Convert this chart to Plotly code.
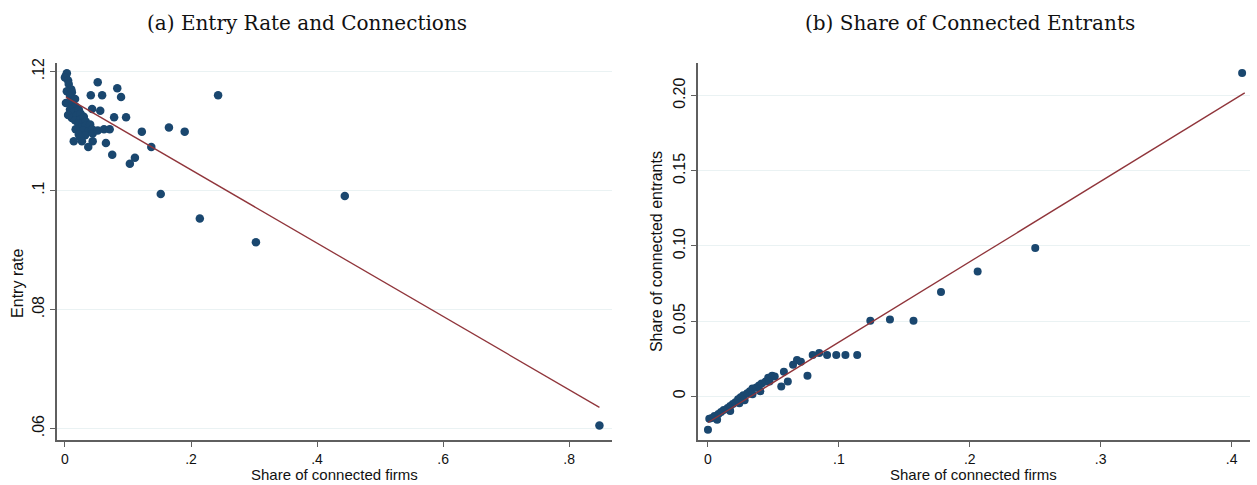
import plotly.graph_objects as go

# Panel (a): share of connected firms vs. entry rate
share_a = [0.0016, 0.003, 0.000, 0.005, 0.006, 0.010, 0.003, 0.011, 0.008, 0.0016,
           0.011, 0.016, 0.013, 0.017, 0.008, 0.014, 0.022, 0.005, 0.011, 0.019,
           0.025, 0.016, 0.024, 0.030, 0.021, 0.029, 0.033, 0.025, 0.033, 0.040,
           0.017, 0.029, 0.037, 0.043, 0.022, 0.032, 0.024, 0.044, 0.014, 0.027,
           0.044, 0.037, 0.052, 0.083, 0.089, 0.041, 0.059, 0.243, 0.043, 0.056,
           0.078, 0.097, 0.122, 0.165, 0.190, 0.052, 0.062, 0.071, 0.065, 0.075,
           0.111, 0.103, 0.137, 0.152, 0.214, 0.303, 0.444, 0.848]
entry_rate = [0.1193, 0.1197, 0.1190, 0.1185, 0.1179, 0.1170, 0.1167, 0.1165, 0.1159, 0.1147,
              0.1151, 0.1154, 0.1144, 0.1141, 0.1136, 0.1132, 0.1136, 0.1127, 0.1122, 0.1126,
              0.1129, 0.1118, 0.1119, 0.1124, 0.1113, 0.1114, 0.1116, 0.1106, 0.1109, 0.1111,
              0.1103, 0.1101, 0.1099, 0.1103, 0.1094, 0.1093, 0.1090, 0.1096, 0.1083, 0.1083,
              0.1083, 0.1073, 0.1182, 0.1172, 0.1157, 0.1160, 0.1160, 0.1160, 0.1137, 0.1134,
              0.1123, 0.1123, 0.1099, 0.1106, 0.1099, 0.1101, 0.1103, 0.1103, 0.1080, 0.1060,
              0.1055, 0.1045, 0.1073, 0.0994, 0.0953, 0.0913, 0.0991, 0.0605]
fit_a = [0.1158, -0.0616]          # intercept, slope
fit_a_x = [0.0016, 0.848]

# Panel (b): share of connected firms vs. share of connected entrants
share_b = [0.000, 0.001, 0.003, 0.005, 0.008, 0.010, 0.012, 0.015, 0.017, 0.019,
           0.021, 0.023, 0.025, 0.027, 0.030, 0.032, 0.034, 0.037, 0.039, 0.041,
           0.044, 0.046, 0.049, 0.051, 0.056, 0.058, 0.061, 0.065, 0.068, 0.071,
           0.076, 0.080, 0.085, 0.091, 0.098, 0.105, 0.114, 0.124, 0.139, 0.157,
           0.178, 0.206, 0.250, 0.408, 0.007, 0.017, 0.028, 0.034, 0.040, 0.047,
           0.024]
entrants_b = [-0.0222, -0.0150, -0.0144, -0.0131, -0.0118, -0.0105, -0.0092, -0.0078, -0.0065, -0.0052,
              -0.0039, -0.0020, -0.0007, 0.0007, 0.0020, 0.0033, 0.0052, 0.0059, 0.0072, 0.0085,
              0.0098, 0.0124, 0.0137, 0.0131, 0.0065, 0.0163, 0.0098, 0.0209, 0.0242, 0.0229,
              0.0137, 0.0275, 0.0288, 0.0275, 0.0275, 0.0275, 0.0275, 0.0503, 0.0510, 0.0503,
              0.0693, 0.0830, 0.0987, 0.2150, -0.0157, -0.0098, -0.0026, 0.0013, 0.0033, 0.0098,
              -0.0046]
fit_b = [-0.0175, 0.535]           # intercept, slope
fit_b_x = [0.0, 0.41]

xticks_a = [0, 0.2, 0.4, 0.6, 0.8]
xticklabels_a = ["0", ".2", ".4", ".6", ".8"]
yticks_a = [0.06, 0.08, 0.10, 0.12]
yticklabels_a = [".06", ".08", ".1", ".12"]
xticks_b = [0, 0.1, 0.2, 0.3, 0.4]
xticklabels_b = ["0", ".1", ".2", ".3", ".4"]
yticks_b = [0, 0.05, 0.10, 0.15, 0.20]
yticklabels_b = ["0", "0.05", "0.10", "0.15", "0.20"]

NAVY = "#1a476f"
MAROON = "#90353b"
AXIS = "#5f5f5f"
GRID = "#eaf2f3"
SANS = "Liberation Sans, Arial, sans-serif"
SERIF = "DejaVu Serif, Liberation Serif, serif"
TXT = "#111"

DOM_A = [0.0453, 0.4869]
DOM_B = [0.5553, 0.9944]
DOM_Y = [0.0928, 0.880]

fig = go.Figure()
fig.add_trace(go.Scatter(x=share_a, y=entry_rate, mode="markers",
                         marker=dict(color=NAVY, size=8.5, line=dict(width=0)),
                         xaxis="x", yaxis="y", showlegend=False))
fig.add_trace(go.Scatter(x=fit_a_x, y=[fit_a[0] + fit_a[1] * v for v in fit_a_x],
                         mode="lines", line=dict(color=MAROON, width=1.3),
                         xaxis="x", yaxis="y", showlegend=False))
fig.add_trace(go.Scatter(x=share_b, y=entrants_b, mode="markers",
                         marker=dict(color=NAVY, size=8, line=dict(width=0)),
                         xaxis="x2", yaxis="y2", showlegend=False))
fig.add_trace(go.Scatter(x=fit_b_x, y=[fit_b[0] + fit_b[1] * v for v in fit_b_x],
                         mode="lines", line=dict(color=MAROON, width=1.3),
                         xaxis="x2", yaxis="y2", showlegend=False))

common_x = dict(showline=True, linecolor=AXIS, linewidth=1.5, ticks="outside",
                ticklen=5, tickcolor=AXIS, tickwidth=1.2, showgrid=False, zeroline=False,
                tickfont=dict(family=SANS, size=14, color=TXT))
common_y = dict(showline=True, linecolor=AXIS, linewidth=1.5, ticks="outside",
                ticklen=5, tickcolor=AXIS, tickwidth=1.2, showgrid=True, gridcolor=GRID,
                gridwidth=1, zeroline=False, tickangle=-90,
                tickfont=dict(family=SANS, size=16, color=TXT),
                title_font=dict(family=SANS, size=16, color=TXT))


def x_title(text, dom):
    return dict(text=text, x=(dom[0] + dom[1]) / 2, y=0.0, xref="paper", yref="paper",
                showarrow=False, xanchor="center", yanchor="bottom",
                font=dict(family=SANS, size=15, color=TXT))


fig.update_layout(
    width=1257, height=485,
    margin=dict(l=0, r=0, t=0, b=0),
    paper_bgcolor="white", plot_bgcolor="white",
    xaxis=dict(domain=DOM_A, range=[-0.0127, 0.868], anchor="y",
               tickvals=xticks_a, ticktext=xticklabels_a, **common_x),
    yaxis=dict(domain=DOM_Y, range=[0.058, 0.1215], anchor="x",
               tickvals=yticks_a, ticktext=yticklabels_a, **common_y),
    xaxis2=dict(domain=DOM_B, range=[-0.0076, 0.414], anchor="y2",
                tickvals=xticks_b, ticktext=xticklabels_b, **common_x),
    yaxis2=dict(domain=DOM_Y, range=[-0.0294, 0.222], anchor="x2",
                tickvals=yticks_b, ticktext=yticklabels_b,
                title=dict(text="Share of connected entrants", standoff=4), **common_y),
    annotations=[
        dict(text="(a) Entry Rate and Connections", x=0.244, y=0.963, xref="paper",
             yref="paper", showarrow=False, xanchor="center", yanchor="middle",
             font=dict(family=SERIF, size=20, color=TXT)),
        dict(text="(b) Share of Connected Entrants", x=0.772, y=0.963, xref="paper",
             yref="paper", showarrow=False, xanchor="center", yanchor="middle",
             font=dict(family=SERIF, size=20, color=TXT)),
        dict(text="Entry rate", x=0.0143, y=0.421, xref="paper", yref="paper",
             showarrow=False, textangle=-90, xanchor="center", yanchor="middle",
             font=dict(family=SANS, size=16, color=TXT)),
        x_title("Share of connected firms", DOM_A),
        x_title("Share of connected firms", DOM_B),
    ],
)

fig.write_html("out.html")
